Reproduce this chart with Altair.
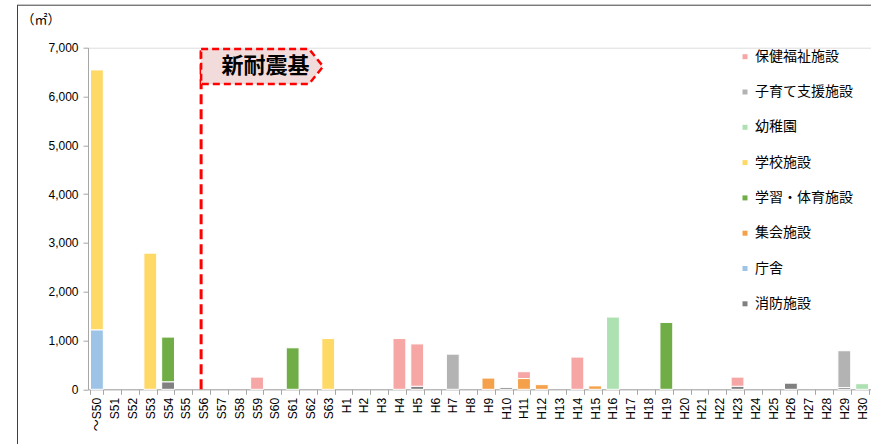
import altair as alt
import pandas as pd

categories = ["～S50", "S51", "S52", "S53", "S54", "S55", "S56", "S57", "S58", "S59",
              "S60", "S61", "S62", "S63"] + [f"H{i}" for i in range(1, 31)]

series = ["保健福祉施設", "子育て支援施設", "幼稚園", "学校施設",
          "学習・体育施設", "集会施設", "庁舎", "消防施設"]
colors = ["#F7A6A6", "#B3B3B3", "#AEE1B2", "#FFD966",
          "#70AD47", "#F5A04A", "#9DC3E6", "#808080"]

health = {"S59": 250, "H4": 1040, "H5": 870, "H11": 140, "H14": 660, "H23": 190}
childcare = {"H7": 720, "H29": 755}
kindergarten = {"H16": 1480, "H30": 115}
school = {"～S50": 5330, "S53": 2790, "S63": 1040}
sports = {"S54": 920, "S61": 850, "H19": 1370}
assembly = {"H9": 230, "H11": 220, "H12": 95, "H15": 70}
office = {"～S50": 1215}
fire = {"S54": 150, "H5": 60, "H10": 35, "H23": 60, "H26": 125, "H29": 35}

series_values = [health, childcare, kindergarten, school, sports, assembly, office, fire]

rows = []
for i, (name, vals) in enumerate(zip(series, series_values)):
    for cat, v in vals.items():
        rows.append({"cat": cat, "series": name, "value": v, "ord": len(series) - 1 - i})
df = pd.DataFrame(rows)

W, H = 783, 341.6
xscale = alt.Scale(domain=categories, paddingInner=0.28, paddingOuter=0.14)
yscale = alt.Scale(domain=[0, 7000], nice=False)

bars = alt.Chart(df).mark_bar(stroke="white", strokeWidth=1).encode(
    x=alt.X("cat:N", scale=xscale, sort=categories,
            axis=alt.Axis(title=None, labelAngle=-90, tickBand="extent", tickSize=5,
                          labelPadding=3, labelFontSize=12, labelColor="#000000",
                          labelFont="Liberation Sans, Noto Sans CJK JP",
                          domainColor="#A6A6A6", tickColor="#A6A6A6")),
    y=alt.Y("value:Q", stack="zero", scale=yscale,
            axis=alt.Axis(title="（㎡）", values=[0, 1000, 2000, 3000, 4000, 5000, 6000, 7000],
                          format=",d", grid=False, tickSize=5, labelPadding=5,
                          labelFontSize=12, labelColor="#000000", labelFont="Liberation Sans",
                          domainColor="#A6A6A6", tickColor="#A6A6A6",
                          titleAngle=0, titleAlign="left", titleBaseline="middle",
                          titleX=-67, titleY=-28, titleFontSize=13, titleFontWeight="normal",
                          titleFont="Noto Sans CJK JP", titleColor="#000000")),
    color=alt.Color("series:N", scale=alt.Scale(domain=series, range=colors),
                    legend=alt.Legend(title=None, orient="none", legendX=650, legendY=2,
                                      symbolType="square", symbolSize=25, labelFontSize=14,
                                      labelFont="Noto Sans CJK JP", labelColor="#000000",
                                      rowPadding=21.3, labelOffset=3, padding=0,
                                      symbolStrokeWidth=0)),
    order=alt.Order("ord:Q", sort="ascending"),
)

line_df = pd.DataFrame({"cat": ["S56"], "y0": [0], "y1": [6950]})
vline = alt.Chart(line_df).mark_rule(color="#FF0000", strokeWidth=3, strokeDash=[10, 5]).encode(
    x=alt.X("cat:N", bandPosition=0.3, scale=xscale, sort=categories),
    y=alt.Y("y0:Q", scale=yscale),
    y2="y1:Q",
)

box_df = pd.DataFrame({"cat": ["S56"], "y": [6615]})
arrow_path = "M0,-0.143 L0.885,-0.143 L1,0 L0.885,0.143 L0,0.143 Z"
box = alt.Chart(box_df).mark_point(shape=arrow_path, size=59536, filled=True, fill="#F2DCDB",
                                   stroke="#FF0000", strokeWidth=2.5, strokeDash=[7, 4],
                                   opacity=1).encode(
    x=alt.X("cat:N", bandPosition=0.3, scale=xscale, sort=categories),
    y=alt.Y("y:Q", scale=yscale),
)

text_df = pd.DataFrame({"cat": ["S57"], "y": [6615], "label": ["新耐震基"]})
label = alt.Chart(text_df).mark_text(align="left", baseline="middle", fontSize=22,
                                     fontWeight="bold", font="Noto Sans CJK JP",
                                     color="#000000").encode(
    x=alt.X("cat:N", scale=xscale, sort=categories),
    y=alt.Y("y:Q", scale=yscale),
    text="label:N",
)

one = pd.DataFrame({"a": [0]})
frame_top = alt.Chart(one).mark_rule(color="#404040", strokeWidth=1).encode(
    x=alt.value(-71), x2=alt.value(W + 10), y=alt.value(-42.5))
frame_left = alt.Chart(one).mark_rule(color="#404040", strokeWidth=1).encode(
    x=alt.value(-70.5), y=alt.value(-42.5), y2=alt.value(H + 60))

chart = alt.layer(frame_top, frame_left, bars, vline, box, label).properties(
    width=W, height=H,
    autosize=alt.AutoSizeParams(type="none"),
    padding={"left": 88, "top": 47.7, "right": 0, "bottom": 54.7},
).configure_view(stroke=None).configure(background="white")

chart.save("out.html", embed_options={"renderer": "svg", "actions": False})
